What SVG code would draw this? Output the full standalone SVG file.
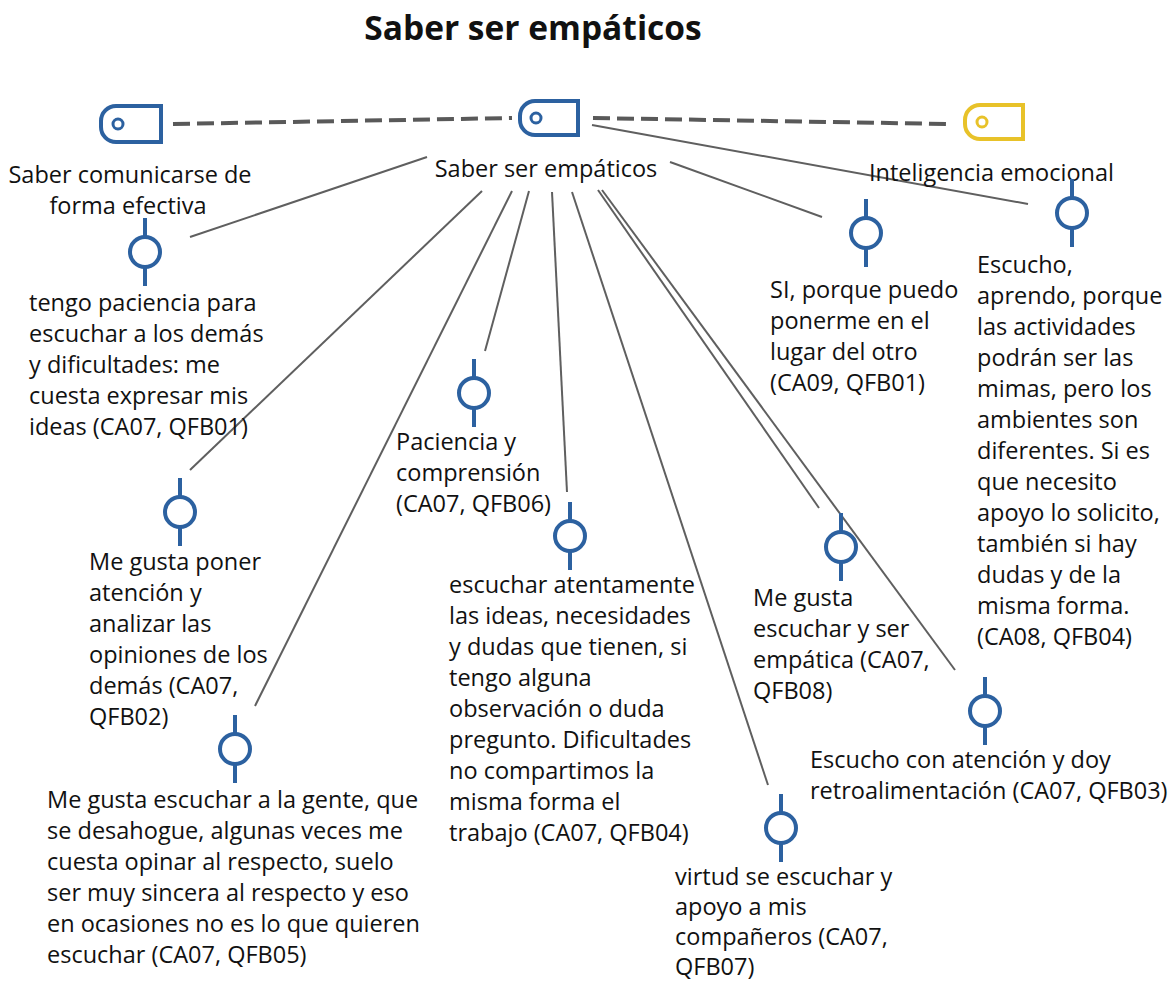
<svg xmlns="http://www.w3.org/2000/svg" width="1175" height="982" viewBox="0 0 1175 982">
<defs>
<style>
text{font-family:"Open Sans","Noto Sans","Liberation Sans",sans-serif;font-size:23.5px;fill:#111}
.title{font-size:33.5px;font-weight:bold;text-anchor:middle}
.mid{text-anchor:middle}
.conn line{stroke:#5f5f5f;stroke-width:2}
.conn .dash{stroke:#595959;stroke-width:4;stroke-dasharray:17 7}
.tag{fill:#fff;stroke-width:4}
.blue{stroke:#2c61a0}
.yellow{stroke:#e8c229}
.q circle{fill:#fff;stroke:#2c61a0;stroke-width:4}
.q line{stroke:#2c61a0;stroke-width:4}
</style>
<g id="quoteIcon" class="q"><line x1="0" y1="-34" x2="0" y2="34"/><circle cx="0" cy="0" r="15"/></g>
</defs>
<rect width="1175" height="982" fill="#fff"/>
<text class="title" x="533" y="40">Saber ser empáticos</text>

<g id="connectors" class="conn">
<line class="dash" x1="173" y1="124" x2="512" y2="118"/>
<line class="dash" x1="593" y1="118" x2="948" y2="124"/>
<line x1="427" y1="157" x2="190" y2="237"/>
<line x1="482" y1="191" x2="190" y2="470"/>
<line x1="512" y1="191" x2="255" y2="706"/>
<line x1="529" y1="191" x2="485" y2="351"/>
<line x1="552" y1="192" x2="567" y2="492"/>
<line x1="572" y1="192" x2="768" y2="785"/>
<line x1="598" y1="190" x2="819" y2="508"/>
<line x1="602" y1="190" x2="955" y2="670"/>
<line x1="670" y1="162" x2="822" y2="217"/>
<line x1="592" y1="125" x2="1028" y2="204"/>
</g>

<g id="code-comunicarse">
<path class="tag blue" d="M161,106 H116 A15,15 0 0 0 101,121 V127 A15,15 0 0 0 116,142 H161 Z"/>
<circle cx="118" cy="124" r="5" fill="none" stroke="#2c61a0" stroke-width="3"/>
<text class="mid" x="130" y="183">Saber comunicarse de</text>
<text class="mid" x="128" y="214">forma efectiva</text>
</g>

<g id="code-empaticos">
<path class="tag blue" d="M578,101 H535 A15,15 0 0 0 520,116 V120 A15,15 0 0 0 535,135 H578 Z"/>
<circle cx="536" cy="118" r="5" fill="none" stroke="#2c61a0" stroke-width="3"/>
<text class="mid" x="546" y="177">Saber ser empáticos</text>
</g>

<g id="code-inteligencia">
<path class="tag yellow" d="M1023,105 H980 A15,15 0 0 0 965,120 V124 A15,15 0 0 0 980,139 H1023 Z"/>
<circle cx="982" cy="122" r="5" fill="none" stroke="#e8c229" stroke-width="3"/>
<text x="869" y="181">Inteligencia emocional</text>
</g>

<g id="q-QFB01">
<use href="#quoteIcon" x="145" y="252"/>
<text x="29" y="311">tengo paciencia para</text>
<text x="29" y="342">escuchar a los demás</text>
<text x="29" y="373">y dificultades: me</text>
<text x="29" y="404">cuesta expresar mis</text>
<text x="29" y="435">ideas (CA07, QFB01)</text>
</g>

<g id="q-QFB02">
<use href="#quoteIcon" x="180" y="512"/>
<text x="89" y="570">Me gusta poner</text>
<text x="89" y="601">atención y</text>
<text x="89" y="632">analizar las</text>
<text x="89" y="663">opiniones de los</text>
<text x="89" y="694">demás (CA07,</text>
<text x="89" y="725">QFB02)</text>
</g>

<g id="q-QFB05">
<use href="#quoteIcon" x="235" y="749"/>
<text x="47" y="808">Me gusta escuchar a la gente, que</text>
<text x="47" y="839">se desahogue, algunas veces me</text>
<text x="47" y="870">cuesta opinar al respecto, suelo</text>
<text x="47" y="901">ser muy sincera al respecto y eso</text>
<text x="47" y="932">en ocasiones no es lo que quieren</text>
<text x="47" y="963">escuchar (CA07, QFB05)</text>
</g>

<g id="q-QFB06">
<use href="#quoteIcon" x="474" y="393"/>
<text x="396" y="450">Paciencia y</text>
<text x="396" y="481">comprensión</text>
<text x="396" y="512">(CA07, QFB06)</text>
</g>

<g id="q-QFB04a">
<use href="#quoteIcon" x="570" y="536"/>
<text x="449" y="593">escuchar atentamente</text>
<text x="449" y="624">las ideas, necesidades</text>
<text x="449" y="655">y dudas que tienen, si</text>
<text x="449" y="686">tengo alguna</text>
<text x="449" y="717">observación o duda</text>
<text x="449" y="748">pregunto. Dificultades</text>
<text x="449" y="779">no compartimos la</text>
<text x="449" y="810">misma forma el</text>
<text x="449" y="841">trabajo (CA07, QFB04)</text>
</g>

<g id="q-QFB07">
<use href="#quoteIcon" x="781" y="828"/>
<text x="675" y="885">virtud se escuchar y</text>
<text x="675" y="915">apoyo a mis</text>
<text x="675" y="945">compañeros (CA07,</text>
<text x="675" y="975">QFB07)</text>
</g>

<g id="q-QFB08">
<use href="#quoteIcon" x="841" y="547"/>
<text x="753" y="606">Me gusta</text>
<text x="753" y="637">escuchar y ser</text>
<text x="753" y="668">empática (CA07,</text>
<text x="753" y="699">QFB08)</text>
</g>

<g id="q-QFB03">
<use href="#quoteIcon" x="985" y="711"/>
<text x="810" y="768">Escucho con atención y doy</text>
<text x="810" y="799">retroalimentación (CA07, QFB03)</text>
</g>

<g id="q-CA09">
<use href="#quoteIcon" x="866" y="233"/>
<text x="770" y="298">SI, porque puedo</text>
<text x="770" y="329">ponerme en el</text>
<text x="770" y="360">lugar del otro</text>
<text x="770" y="391">(CA09, QFB01)</text>
</g>

<g id="q-CA08">
<use href="#quoteIcon" x="1072" y="213"/>
<text x="977" y="273">Escucho,</text>
<text x="977" y="304">aprendo, porque</text>
<text x="977" y="335">las actividades</text>
<text x="977" y="366">podrán ser las</text>
<text x="977" y="397">mimas, pero los</text>
<text x="977" y="428">ambientes son</text>
<text x="977" y="459">diferentes. Si es</text>
<text x="977" y="490">que necesito</text>
<text x="977" y="521">apoyo lo solicito,</text>
<text x="977" y="552">también si hay</text>
<text x="977" y="583">dudas y de la</text>
<text x="977" y="614">misma forma.</text>
<text x="977" y="645">(CA08, QFB04)</text>
</g>
</svg>
